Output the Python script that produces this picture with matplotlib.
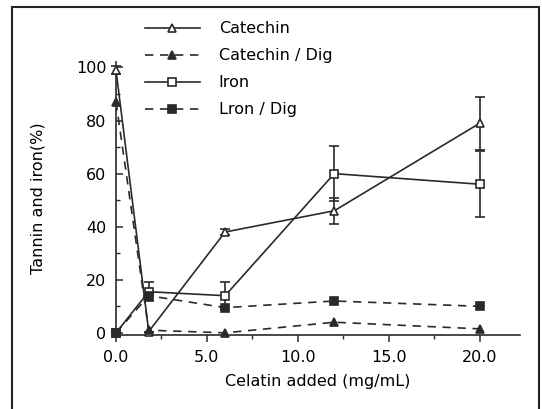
import matplotlib
matplotlib.use('Agg')
import matplotlib.pyplot as plt
from matplotlib.patches import Rectangle
from matplotlib.lines import Line2D
from matplotlib.ticker import MultipleLocator, FormatStrFormatter

# values
gelatin = [0, 1.8, 6, 12, 20]
catechin = [99, 0.5, 38, 46, 79]
catechin_err = [1.5, 0, 1, 5, 10]
catechin_dig = [87, 1, 0, 4, 1.5]
iron = [0, 15.5, 14, 60, 56]
iron_err = [0, 3.5, 5, 10.5, 12.5]
iron_dig = [0, 14, 9.5, 12, 10]
labels = ['Catechin', 'Catechin / Dig', 'Iron', 'Lron / Dig']

ink = '#2a2a2a'
dash = (0, (5, 4))
plt.rcParams['font.family'] = ['DejaVu Sans']

fig = plt.figure(figsize=(5.42, 4.09), dpi=100)
ax = fig.add_axes([0.214, 0.181, 0.745, 0.667])

styles = [
    dict(ls='-', marker='^', mfc='white'),
    dict(ls=dash, marker='^', mfc=ink),
    dict(ls='-', marker='s', mfc='white'),
    dict(ls=dash, marker='s', mfc=ink),
]
series = [catechin, catechin_dig, iron, iron_dig]
errors = [catechin_err, None, iron_err, None]

handles = []
for i, (vals, err, st) in enumerate(zip(series, errors, styles)):
    eb = ax.errorbar(gelatin, vals, yerr=err, color=ink, lw=1.2, ms=6,
                     mec=ink, mew=1.2, capsize=3.5, elinewidth=1.2,
                     clip_on=False, zorder=3 + i, **st)
    for bar in eb[2]:
        bar.set_clip_on(False)
    for cap in eb[1]:
        cap.set_clip_on(False)
    handles.append(Line2D([], [], color=ink, lw=1.2, ms=6, mec=ink, mew=1.2, **st))

ax.set_xlim(0, 22.2)
ax.set_ylim(-0.8, 102)
ax.spines['top'].set_visible(False)
ax.spines['right'].set_visible(False)
for s in ('left', 'bottom'):
    ax.spines[s].set_color(ink)
    ax.spines[s].set_linewidth(1.2)

ax.xaxis.set_major_locator(MultipleLocator(5))
ax.xaxis.set_minor_locator(MultipleLocator(2.5))
ax.xaxis.set_major_formatter(FormatStrFormatter('%.1f'))
ax.yaxis.set_major_locator(MultipleLocator(20))
ax.yaxis.set_minor_locator(MultipleLocator(10))
ax.tick_params(axis='x', which='both', direction='out', colors=ink, labelcolor='black')
ax.tick_params(axis='x', which='major', length=5, width=1.1, labelsize=11.5, pad=6)
ax.tick_params(axis='x', which='minor', length=3, width=1)
ax.tick_params(axis='y', which='both', direction='in', colors=ink, labelcolor='black')
ax.tick_params(axis='y', which='major', length=5, width=1.1, labelsize=11.5, pad=7)
ax.tick_params(axis='y', which='minor', length=3, width=1)

ax.set_xlabel('Celatin added (mg/mL)', fontsize=11.5, labelpad=6)
ax.set_ylabel('Tannin and iron(%)', fontsize=11.5, labelpad=22)

fig.legend(handles, labels, loc='upper left', bbox_to_anchor=(0.268, 0.948),
           frameon=False, fontsize=11.5, handlelength=3.4, handletextpad=1.2,
           labelspacing=0.75, borderpad=0, borderaxespad=0)

fig.patches.append(Rectangle((0.022, -0.05), 0.972, 1.033, transform=fig.transFigure,
                             fill=False, ec='#222222', lw=1.5))

fig.savefig('out.png', dpi=100)
